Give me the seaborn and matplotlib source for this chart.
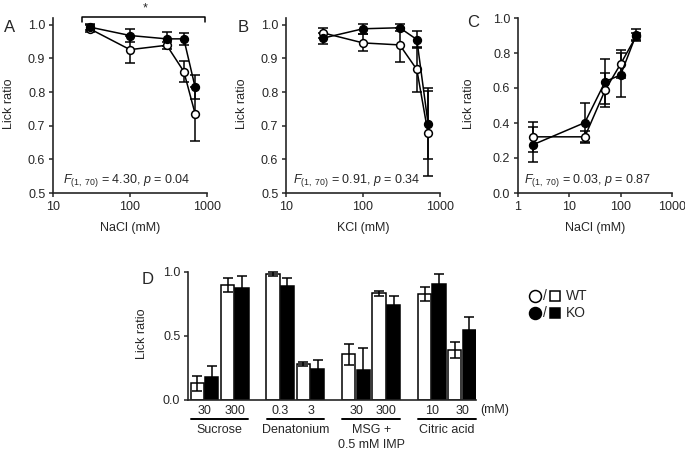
import numpy as np
import pandas as pd
import matplotlib
matplotlib.use("Agg")
import matplotlib.pyplot as plt
import seaborn as sns
from matplotlib.lines import Line2D
from matplotlib.transforms import blended_transform_factory

sns.set_theme(style="ticks")
plt.rcParams["font.family"] = ["Liberation Sans", "DejaVu Sans"]
plt.rcParams["mathtext.fontset"] = "custom"
plt.rcParams["mathtext.rm"] = "Liberation Sans"
plt.rcParams["mathtext.it"] = "Liberation Sans:italic"
plt.rcParams["axes.linewidth"] = 1.2

# ---------------- data ----------------
a_conc = [30, 100, 300, 500, 700]
a_wt = [0.988, 0.926, 0.939, 0.861, 0.736]
a_wt_err = [0.010, 0.040, 0.010, 0.030, 0.080]
a_ko = [0.993, 0.968, 0.958, 0.958, 0.815]
a_ko_err = [0.008, 0.018, 0.020, 0.017, 0.037]
a_stat = r"$\mathit{F}_{\mathit{(1,\ 70)}}$ = 4.30, $\mathit{p}$ = 0.04"

b_conc = [30, 100, 300, 500, 700]
b_wt = [0.976, 0.946, 0.940, 0.867, 0.677]
b_wt_err = [0.015, 0.025, 0.050, 0.067, 0.127]
b_ko = [0.960, 0.988, 0.991, 0.956, 0.706]
b_ko_err = [0.016, 0.015, 0.010, 0.025, 0.105]
b_stat = r"$\mathit{F}_{\mathit{(1,\ 70)}}$ = 0.91, $\mathit{p}$ = 0.34"

c_conc = [2, 20, 50, 100, 200]
c_wt = [0.321, 0.321, 0.589, 0.738, 0.895]
c_wt_err = [0.085, 0.035, 0.095, 0.080, 0.020]
c_ko = [0.277, 0.402, 0.637, 0.675, 0.904]
c_ko_err = [0.100, 0.110, 0.130, 0.125, 0.033]
c_stat = r"$\mathit{F}_{\mathit{(1,\ 70)}}$ = 0.03, $\mathit{p}$ = 0.87"

d_groups = ["Sucrose", "Denatonium", "MSG +\n0.5 mM IMP", "Citric acid"]
d_conc_labels = ["30", "300", "0.3", "3", "30", "300", "10", "30"]
d_wt = [0.130, 0.896, 0.984, 0.282, 0.357, 0.833, 0.826, 0.390]
d_wt_err = [0.060, 0.055, 0.017, 0.015, 0.080, 0.022, 0.055, 0.060]
d_ko = [0.178, 0.875, 0.888, 0.240, 0.234, 0.740, 0.906, 0.550]
d_ko_err = [0.090, 0.090, 0.065, 0.070, 0.175, 0.072, 0.080, 0.100]

FS = 9

fig = plt.figure(figsize=(6.85, 4.55), dpi=100)
W, H = 685.0, 455.0


def px_axes(l, t, r, b):
    return fig.add_axes([l / W, 1 - b / H, (r - l) / W, (b - t) / H])


def line_panel(ax, conc, wt, wt_err, ko, ko_err, stat, stat_x):
    n = len(conc)
    df = pd.DataFrame({
        "conc": list(conc) * 2,
        "ratio": list(wt) + list(ko),
        "err": list(wt_err) + list(ko_err),
        "geno": ["WT"] * n + ["KO"] * n,
    })
    for i, (geno, face) in enumerate([("WT", "white"), ("KO", "black")]):
        sub = df[df.geno == geno]
        ax.errorbar(sub.conc, sub.ratio, yerr=sub.err, fmt="none", ecolor="black",
                    elinewidth=1.1, capsize=3.3, capthick=1.1, zorder=2, clip_on=False)
        sns.lineplot(data=sub, x="conc", y="ratio", ax=ax, color="black",
                     linewidth=1.1, marker="o", markersize=5.6,
                     markerfacecolor=face, markeredgecolor="black",
                     markeredgewidth=1.1, legend=False, zorder=3 + i,
                     estimator=None, clip_on=False)
    ax.set_xscale("log")
    ax.minorticks_off()
    ax.text(stat_x, 0.057, stat, transform=ax.transAxes, fontsize=FS, va="baseline")
    sns.despine(ax=ax)
    ax.tick_params(direction="out", length=3, width=1.1, labelsize=FS, pad=2.5)
    ax.set_ylabel("Lick ratio", fontsize=FS)


# ---- Panel A ----
axa = px_axes(53, 18, 207, 193)
line_panel(axa, a_conc, a_wt, a_wt_err, a_ko, a_ko_err, a_stat, 0.063)
axa.set_xlim(10, 1000)
axa.set_ylim(0.5, 1.02)
axa.set_xticks([10, 100, 1000], ["10", "100", "1000"])
axa.set_yticks(np.arange(0.5, 1.01, 0.1), [f"{v:.1f}" for v in np.arange(0.5, 1.01, 0.1)])
axa.set_xlabel("NaCl (mM)", fontsize=FS)
axa.plot([24, 24, 950, 950], [1.007, 1.022, 1.022, 1.007], color="black",
         linewidth=1.1, clip_on=False)
axa.text(157, 1.032, "*", ha="center", va="bottom", fontsize=FS)

# ---- Panel B ----
axb = px_axes(286, 18, 440, 193)
line_panel(axb, b_conc, b_wt, b_wt_err, b_ko, b_ko_err, b_stat, 0.047)
axb.set_xlim(10, 1000)
axb.set_ylim(0.5, 1.02)
axb.set_xticks([10, 100, 1000], ["10", "100", "1000"])
axb.set_yticks(np.arange(0.5, 1.01, 0.1), [f"{v:.1f}" for v in np.arange(0.5, 1.01, 0.1)])
axb.set_xlabel("KCl (mM)", fontsize=FS)

# ---- Panel C ----
axc = px_axes(518, 18, 672, 193)
line_panel(axc, c_conc, c_wt, c_wt_err, c_ko, c_ko_err, c_stat, 0.039)
axc.set_xlim(1, 1000)
axc.set_ylim(0, 1.0)
axc.set_xticks([1, 10, 100, 1000], ["1", "10", "100", "1000"])
axc.set_yticks(np.arange(0, 1.01, 0.2), [f"{v:.1f}" for v in np.arange(0, 1.01, 0.2)])
axc.set_xlabel("NaCl (mM)", fontsize=FS)

for ax, lx in [(axa, -0.247), (axb, -0.247), (axc, -0.279)]:
    ax.yaxis.set_label_coords(lx, 0.51)
    ax.xaxis.set_label_coords(0.5, -0.165)

# ---- Panel D ----
axd = px_axes(188, 272, 476, 400)
n_per_group = 2
pos = [g * 2.5 + k for g in range(len(d_groups)) for k in range(n_per_group)]
df_d = pd.DataFrame({
    "pos": pos * 2,
    "ratio": d_wt + d_ko,
    "geno": ["WT"] * len(pos) + ["KO"] * len(pos),
})
sns.barplot(data=df_d, x="pos", y="ratio", hue="geno", hue_order=["WT", "KO"],
            palette={"WT": "white", "KO": "black"}, edgecolor="black", linewidth=1.1,
            native_scale=True, width=0.95, gap=0.08, errorbar=None, legend=False,
            orient="x", ax=axd)
# error bars at bar centres
patches = sorted(axd.patches, key=lambda p: p.get_x())
centres = [p.get_x() + p.get_width() / 2 for p in patches]
errs = [e for pair in zip(d_wt_err, d_ko_err) for e in pair]
vals = [v for pair in zip(d_wt, d_ko) for v in pair]
axd.errorbar(centres, vals, yerr=errs, fmt="none", ecolor="black", elinewidth=1.1,
             capsize=3.5, capthick=1.1, zorder=5, clip_on=False)
axd.set_xlim(-0.545, 8.96)
axd.set_ylim(0, 1.0)
axd.set_yticks([0, 0.5, 1.0], ["0.0", "0.5", "1.0"])
axd.set_xticks(pos, d_conc_labels)
axd.tick_params(axis="x", length=0, labelsize=FS, pad=3.5)
axd.tick_params(axis="y", direction="out", length=3, width=1.1, labelsize=FS, pad=2.5)
axd.set_xlabel("")
axd.set_ylabel("Lick ratio", fontsize=FS)
axd.yaxis.set_label_coords(-0.139, 0.52)
sns.despine(ax=axd)
trans = blended_transform_factory(axd.transData, axd.transAxes)
for g, name in enumerate(d_groups):
    gp = pos[g * n_per_group:(g + 1) * n_per_group]
    axd.plot([gp[0] - 0.45, gp[-1] + 0.45], [-0.148, -0.148], transform=trans,
             color="black", linewidth=1.4, clip_on=False)
    axd.text(np.mean(gp), -0.19, name, transform=trans, ha="center", va="top",
             fontsize=FS, linespacing=1.25)
axd.text(9.09, -0.078, "(mM)", transform=trans, ha="left", va="center", fontsize=FS)

# legend-like key
for yy, face, lab in [(296, "white", "WT"), (313, "black", "KO")]:
    fy = 1 - yy / H
    fig.add_artist(Line2D([535 / W], [fy], marker="o", markersize=8.6,
                          markerfacecolor=face, markeredgecolor="black",
                          markeredgewidth=1.1, transform=fig.transFigure))
    fig.text(544.5 / W, fy, "/", ha="center", va="center", fontsize=10)
    fig.add_artist(Line2D([554.5 / W], [fy], marker="s", markersize=7.8,
                          markerfacecolor=face, markeredgecolor="black",
                          markeredgewidth=1.1, transform=fig.transFigure))
    fig.text(566 / W, fy, lab, ha="left", va="center", fontsize=10)

# panel letters
for letter, x, y in [("A", 4, 27.5), ("B", 238, 27.5), ("C", 467, 22.5), ("D", 142, 279)]:
    fig.text(x / W, 1 - y / H, letter, ha="left", va="center", fontsize=12)

fig.savefig("out.png", dpi=100)
